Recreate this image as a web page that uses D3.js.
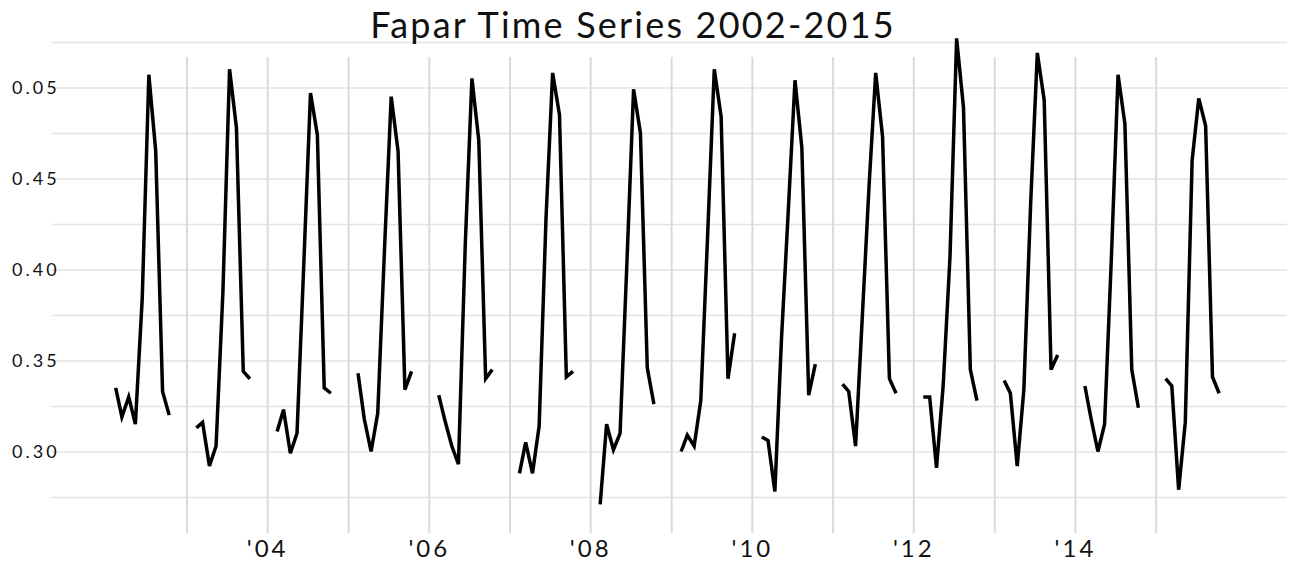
<!DOCTYPE html>
<html>
<head>
<meta charset="utf-8">
<script src="https://cdn.jsdelivr.net/npm/d3@7"></script>
<style>
  body { margin: 0; background: #fff; }
  svg { display: block; font-family: Lato, "Open Sans", sans-serif; }
</style>
</head>
<body>
<svg id="chart"></svg>
<script>
const width = 1291, height = 562

// Feb..Oct readings for each year (month index 1..9 = Feb..Oct)
const months = [1, 2, 3, 4, 5, 6, 7, 8, 9]
const years = [2002, 2003, 2004, 2005, 2006, 2007, 2008, 2009, 2010, 2011, 2012, 2013, 2014, 2015]

const fapar2002 = [0.335, 0.319, 0.330, 0.315, 0.384, 0.507, 0.465, 0.333, 0.320]
const fapar2003 = [0.313, 0.316, 0.292, 0.303, 0.388, 0.510, 0.478, 0.344, 0.340]
const fapar2004 = [0.311, 0.323, 0.299, 0.310, 0.404, 0.497, 0.474, 0.335, 0.332]
const fapar2005 = [0.343, 0.318, 0.300, 0.321, 0.412, 0.495, 0.465, 0.334, 0.344]
const fapar2006 = [0.331, 0.317, 0.303, 0.293, 0.414, 0.505, 0.471, 0.340, 0.345]
const fapar2007 = [0.288, 0.305, 0.288, 0.314, 0.428, 0.508, 0.485, 0.341, 0.344]
const fapar2008 = [0.271, 0.315, 0.301, 0.310, 0.404, 0.499, 0.475, 0.346, 0.326]
const fapar2009 = [0.300, 0.309, 0.303, 0.328, 0.419, 0.510, 0.484, 0.340, 0.365]
const fapar2010 = [0.308, 0.306, 0.278, 0.362, 0.433, 0.504, 0.467, 0.331, 0.348]
const fapar2011 = [0.337, 0.333, 0.303, 0.373, 0.446, 0.508, 0.473, 0.340, 0.332]
const fapar2012 = [0.330, 0.330, 0.291, 0.336, 0.407, 0.527, 0.489, 0.345, 0.328]
const fapar2013 = [0.339, 0.332, 0.292, 0.334, 0.437, 0.519, 0.493, 0.345, 0.353]
const fapar2014 = [0.336, 0.318, 0.300, 0.315, 0.407, 0.507, 0.480, 0.345, 0.324]
const fapar2015 = [0.340, 0.336, 0.279, 0.316, 0.460, 0.494, 0.479, 0.341, 0.332]

const series = [fapar2002, fapar2003, fapar2004, fapar2005, fapar2006, fapar2007, fapar2008,
                fapar2009, fapar2010, fapar2011, fapar2012, fapar2013, fapar2014, fapar2015]

const gridValues = [0.275, 0.30, 0.325, 0.35, 0.375, 0.40, 0.425, 0.45, 0.475, 0.50, 0.525]
const yTickValues = [0.30, 0.35, 0.40, 0.45, 0.50]
const yTickLabels = ["0.30", "0.35", "0.40", "0.45", "0.05"]
const xTickYears = [2004, 2006, 2008, 2010, 2012, 2014]
const title = "Fapar Time Series 2002-2015"

const plotLeft = 52, plotRight = 1287, plotTop = 42, plotBottom = 497

const svg = d3.select("#chart").attr("width", width).attr("height", height)

const x = d3.scaleTime()
  .domain([new Date(2001, 4, 3), new Date(2016, 7, 17)])
  .range([plotLeft, plotRight])
const y = d3.scaleLinear().domain([0.275, 0.525]).range([plotBottom, plotTop])

// horizontal grid
svg.append("g")
  .attr("transform", `translate(${plotLeft},0)`)
  .call(d3.axisLeft(y).tickValues(gridValues).tickSize(-(plotRight - plotLeft)).tickFormat(""))
  .call(g => g.select(".domain").remove())
  .selectAll("line").attr("stroke", "#e3e3e3").attr("stroke-width", 1.5)

// year lines
svg.append("g")
  .attr("transform", "translate(0,533)")
  .call(d3.axisBottom(x).ticks(d3.timeYear.every(1)).tickSize(-476).tickFormat(""))
  .call(g => g.select(".domain").remove())
  .call(g => g.selectAll(".tick").filter(d => d.getFullYear() < 2003 || d.getFullYear() > 2015).remove())
  .selectAll("line").attr("stroke", "#dadada").attr("stroke-width", 2)

// y labels
svg.append("g")
  .attr("transform", "translate(12,0)")
  .call(d3.axisRight(y).tickValues(yTickValues).tickSize(0).tickFormat((d, i) => yTickLabels[i]))
  .call(g => g.select(".domain").remove())
  .selectAll("text")
    .attr("x", 0).attr("dy", "0.36em")
    .attr("font-family", "Lato, sans-serif")
    .attr("font-size", 18).attr("letter-spacing", "3px").attr("fill", "#111")

// x labels
svg.append("g")
  .attr("transform", "translate(0,557)")
  .call(d3.axisBottom(x).tickValues(xTickYears.map(yr => new Date(yr, 0, 1))).tickSize(0)
    .tickFormat(d3.timeFormat("'%y")))
  .call(g => g.select(".domain").remove())
  .selectAll("text")
    .attr("y", 0).attr("dy", 0)
    .attr("font-family", "Lato, sans-serif")
    .attr("font-size", 24).attr("letter-spacing", "3px").attr("fill", "#111")

// one line per year
const line = d3.line()
  .x(d => x(d.date))
  .y(d => y(d.value))

years.forEach((yr, i) => {
  const pts = series[i].map((v, j) => ({ date: new Date(yr, months[j], 15), value: v }))
  svg.append("path")
    .datum(pts)
    .attr("fill", "none")
    .attr("stroke", "#000")
    .attr("stroke-width", 3.5)
    .attr("stroke-linejoin", "miter")
    .attr("d", line)
})

svg.append("text")
  .attr("x", 633).attr("y", 38)
  .attr("text-anchor", "middle")
  .attr("font-family", "Lato, sans-serif")
  .attr("font-size", 36).attr("letter-spacing", "2.2px")
  .attr("fill", "#111")
  .text(title)
</script>
</body>
</html>
